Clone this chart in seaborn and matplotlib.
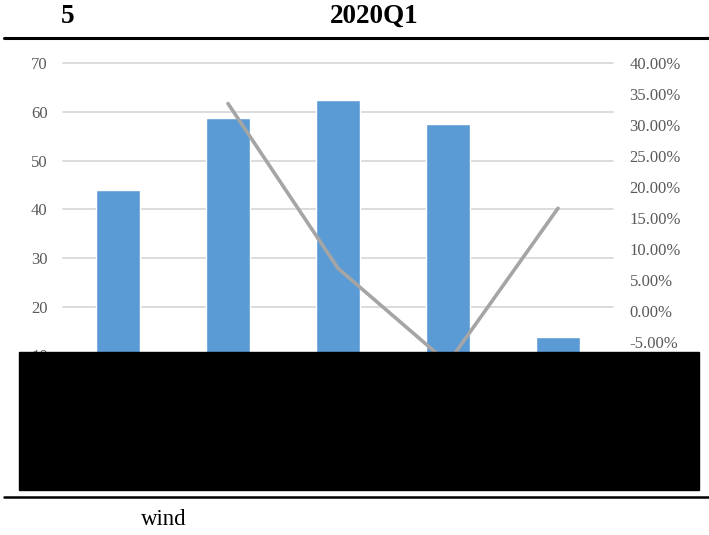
import numpy as np
import matplotlib.pyplot as plt
import seaborn as sns
import pandas as pd
from matplotlib.patches import Rectangle
from matplotlib.lines import Line2D
from matplotlib.ticker import FuncFormatter

# data (x labels are hidden under the black box)
categories = ['A', 'B', 'C', 'D', 'E']
capacity = [44.0, 58.7, 62.5, 57.5, 13.8]
growth_pct = [np.nan, 33.5, 6.9, -8.4, 16.6]

left_ticks = list(range(0, 71, 10))
right_ticks = list(range(-15, 41, 5))

sns.set_theme(style='white')
plt.rcParams['font.family'] = ['Liberation Serif', 'DejaVu Serif']
plt.rcParams['text.color'] = 'black'

df = pd.DataFrame({'cat': categories, 'cap': capacity,
                   'pos': np.arange(len(categories)), 'g': growth_pct})

fig = plt.figure(figsize=(7.09, 5.35), dpi=100)
ax = fig.add_axes([63 / 709, 0.2449, 550 / 709, 0.6368])

sns.barplot(data=df, x='cat', y='cap', color='#5B9BD5', width=0.4,
            saturation=1, ax=ax, zorder=3)
ax.set_xlim(-0.5, 4.5)
ax.set_ylim(0, 70)
ax.set_yticks(left_ticks)
ax.yaxis.grid(True, color='#D9D9D9', linewidth=1.3, zorder=0)
for gl in ax.get_ygridlines():
    gl.set_clip_on(False)
ax.set_axisbelow(True)
ax.set_xlabel('')
ax.set_ylabel('')
ax.tick_params(axis='y', length=0, pad=11, labelsize=12, labelcolor='#595959')
ax.tick_params(axis='x', length=0, labelsize=12, labelcolor='#595959')
for s in ax.spines.values():
    s.set_visible(False)

ax2 = ax.twinx()
sns.lineplot(data=df, x='pos', y='g', color='#A5A5A5', linewidth=2.6,
             ax=ax2, solid_capstyle='round', solid_joinstyle='round', zorder=4)
ax2.set_ylim(-15, 40)
ax2.set_yticks(right_ticks)
ax2.yaxis.set_major_formatter(FuncFormatter(lambda v, p: f'{v:.2f}%'))
ax2.set_ylabel('')
ax2.tick_params(axis='y', length=0, pad=12, labelsize=12, labelcolor='#595959')
for s in ax2.spines.values():
    s.set_visible(False)

# header / footer decoration
fig.text(0.0952, 0.969, '5', ha='center', va='center', fontsize=19.5,
         fontweight='bold', color='black')
fig.text(0.528, 0.969, '2020Q1', ha='center', va='center', fontsize=19.5,
         fontweight='bold', color='black')
fig.add_artist(Line2D([0.0056, 1.0], [0.9295, 0.9295], color='black',
                      linewidth=2.2, transform=fig.transFigure))
fig.add_artist(Line2D([0.0056, 1.0], [0.0716, 0.0716], color='black',
                      linewidth=1.8, transform=fig.transFigure))
fig.text(0.1985, 0.0187, 'wind', ha='left', va='baseline', fontsize=16.5,
         color='black')

# redaction box over the lower part of the chart
fig.add_artist(Rectangle((19 / 709, 0.0841), 680 / 709, 0.2579,
                         transform=fig.transFigure, color='black', zorder=10))

fig.savefig('out.png', dpi=100)
